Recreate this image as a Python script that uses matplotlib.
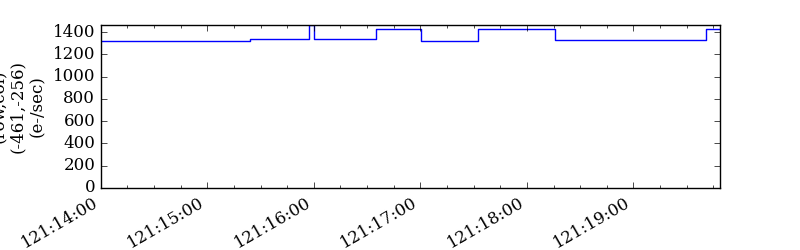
import numpy as np
import matplotlib
matplotlib.use("Agg")
import matplotlib.pyplot as plt
from matplotlib.ticker import FuncFormatter, MultipleLocator

# time in minutes after 121:14:00, rate in e-/sec (steps-post)
t_min = [0.0, 1.401, 1.951, 1.998, 2.583, 3.008, 3.537, 4.268, 5.685, 5.813]
rate = [1319, 1337, 1465, 1337, 1427, 1319, 1427, 1328, 1427, 1427]

plt.style.use("classic")
plt.rcParams["font.family"] = "DejaVu Serif"

fig = plt.figure(figsize=(8, 2.5), dpi=100)
ax = fig.add_axes([0.126, 0.248, 0.774, 0.652])
ax.plot(t_min, rate, color="b", drawstyle="steps-post", lw=1)

ax.set_xlim(t_min[0], t_min[-1])
ax.set_ylim(0, max(rate))
ax.xaxis.set_major_locator(MultipleLocator(1))
ax.xaxis.set_minor_locator(MultipleLocator(0.25))
ax.xaxis.set_major_formatter(FuncFormatter(lambda x, p: "121:%02d:00" % (14 + int(round(x)))))
ax.yaxis.set_major_locator(MultipleLocator(200))
ax.set_ylabel("(row,col)\n(-461,-256)\n(e-/sec)")
for lbl in ax.get_xticklabels():
    lbl.set_rotation(30)
    lbl.set_ha("right")

fig.savefig("out.png")
